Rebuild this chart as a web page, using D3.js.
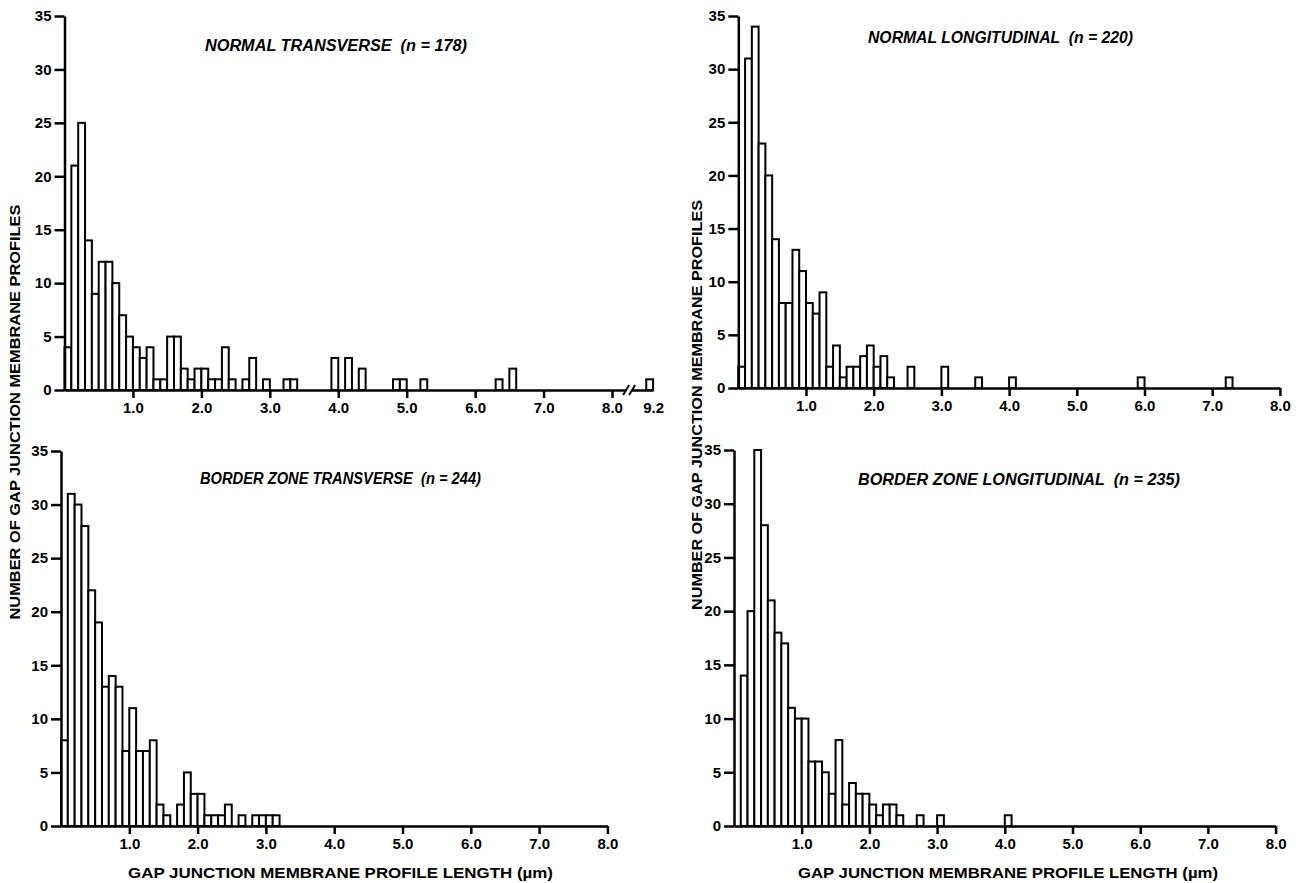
<!DOCTYPE html>
<html>
<head>
<meta charset="utf-8">
<script src="https://cdn.jsdelivr.net/npm/d3@7"></script>
<style>
  html, body { margin: 0; padding: 0; background: #fff; }
  svg { display: block; }
  .tick text { font-family: "Liberation Sans", Arial, sans-serif; font-weight: bold; font-size: 15px; fill: #000; }
  .title { font-family: "Liberation Sans", Arial, sans-serif; font-weight: bold; font-style: italic; font-size: 16px; white-space: pre; }
  .axis-label { font-family: "Liberation Sans", Arial, sans-serif; font-weight: bold; font-size: 15px; }
</style>
</head>
<body>
<svg id="chart" width="1296" height="883"></svg>
<script>
// counts per 0.1 um bin, bin i covers [i*0.1, (i+1)*0.1]
const binWidth = 0.1;
const yTicks = [0, 5, 10, 15, 20, 25, 30, 35];
const xTicks = [1, 2, 3, 4, 5, 6, 7, 8];

const normalTransverse = [
  4, 21, 25, 14, 9, 12, 12, 10, 7, 5,
  4, 3, 4, 1, 1, 5, 5, 2, 1, 2,
  2, 1, 1, 4, 1, 0, 1, 3, 0, 1,
  0, 0, 1, 1, 0, 0, 0, 0, 0, 3,
  0, 3, 0, 2, 0, 0, 0, 0, 1, 1,
  0, 0, 1, 0, 0, 0, 0, 0, 0, 0,
  0, 0, 0, 1, 0, 2
];
// one profile beyond the axis break
const normalTransverseTail = [{ start: 9.1, count: 1 }];

const normalLongitudinal = [
  2, 31, 34, 23, 20, 14, 8, 8, 13, 11,
  8, 7, 9, 2, 4, 1, 2, 2, 3, 4,
  2, 3, 1, 0, 0, 2, 0, 0, 0, 0,
  2, 0, 0, 0, 0, 1, 0, 0, 0, 0,
  1, 0, 0, 0, 0, 0, 0, 0, 0, 0,
  0, 0, 0, 0, 0, 0, 0, 0, 0, 1,
  0, 0, 0, 0, 0, 0, 0, 0, 0, 0,
  0, 0, 1
];

const borderTransverse = [
  8, 31, 30, 28, 22, 19, 13, 14, 13, 7,
  11, 7, 7, 8, 2, 1, 0, 2, 5, 3,
  3, 1, 1, 1, 2, 0, 1, 0, 1, 1,
  1, 1
];

const borderLongitudinal = [
  0, 14, 20, 35, 28, 21, 18, 17, 11, 10,
  10, 6, 6, 5, 3, 8, 2, 4, 3, 3,
  2, 1, 2, 2, 1, 0, 0, 1, 0, 0,
  1, 0, 0, 0, 0, 0, 0, 0, 0, 0,
  1
];

const panelTitles = [
  'NORMAL TRANSVERSE  (n = 178)',
  'NORMAL LONGITUDINAL  (n = 220)',
  'BORDER ZONE TRANSVERSE  (n = 244)',
  'BORDER ZONE LONGITUDINAL  (n = 235)'
];
const yLabel = 'NUMBER OF GAP JUNCTION MEMBRANE PROFILES';
const xLabel = 'GAP JUNCTION MEMBRANE PROFILE LENGTH (\u00b5m)';

const svg = d3.select('#chart');
svg.append('rect').attr('width', 1296).attr('height', 883).attr('fill', '#fff');

function toBins(counts) {
  return counts
    .map((c, i) => ({ x0: i * binWidth, x1: (i + 1) * binWidth, c }))
    .filter((d) => d.c > 0);
}

const panels = [
  {
    bins: toBins(normalTransverse).concat(normalTransverseTail.map((t) => ({ x0: t.start, x1: t.start + binWidth, c: t.count }))),
    title: panelTitles[0], tx: 205, tw: 262, ty: 51,
    x0: 64.5, unit: 68.44, y0: 390, y35: 16, broken: true
  },
  {
    bins: toBins(normalLongitudinal),
    title: panelTitles[1], tx: 868, tw: 265, ty: 43,
    x0: 738.3, unit: 67.7, y0: 388, y35: 16
  },
  {
    bins: toBins(borderTransverse),
    title: panelTitles[2], tx: 200, tw: 281, ty: 484,
    x0: 61, unit: 68.3, y0: 826, y35: 451
  },
  {
    bins: toBins(borderLongitudinal),
    title: panelTitles[3], tx: 858, tw: 322, ty: 485,
    x0: 734, unit: 67.7, y0: 826, y35: 450
  }
];

function drawPanel(p) {
  const g = svg.append('g');
  const u = p.unit;
  let x;
  if (p.broken) {
    // piecewise scale: 8.25 -> 9.1 squeezed into a short gap
    x = d3.scaleLinear()
      .domain([0, 8.25, 9.1, 9.2])
      .range([p.x0, p.x0 + 8.25 * u, p.x0 + 8.5 * u, p.x0 + 8.6 * u]);
  } else {
    x = d3.scaleLinear().domain([0, 8]).range([p.x0, p.x0 + 8 * u]);
  }
  const y = d3.scaleLinear().domain([0, 35]).range([p.y0, p.y35]);

  g.append('g')
    .selectAll('rect')
    .data(p.bins)
    .join('rect')
    .attr('x', (d) => x(d.x0))
    .attr('width', (d) => x(d.x1) - x(d.x0))
    .attr('y', (d) => y(d.c))
    .attr('height', (d) => y(0) - y(d.c))
    .attr('fill', '#fff')
    .attr('stroke', '#000')
    .attr('stroke-width', 2);

  const ticks = p.broken ? xTicks.concat([9.2]) : xTicks;
  const xa = g.append('g')
    .attr('transform', `translate(0,${y(0)})`)
    .call(d3.axisBottom(x).tickValues(ticks).tickSize(8).tickSizeOuter(0).tickPadding(4).tickFormat(d3.format('.1f')));
  xa.selectAll('path, line').attr('stroke', '#000').attr('stroke-width', 2.5);
  xa.attr('font-size', null).attr('font-family', null);
  if (p.broken) {
    xa.selectAll('.tick').filter((d) => d > 8).select('line').remove();
    const bx = x(8.25);
    g.append('rect').attr('x', bx - 3).attr('y', y(0) - 3).attr('width', 6).attr('height', 6).attr('fill', '#fff');
    [-3, 3].forEach((dx) => {
      g.append('line')
        .attr('x1', bx + dx - 3).attr('y1', y(0) + 5)
        .attr('x2', bx + dx + 3).attr('y2', y(0) - 5)
        .attr('stroke', '#000').attr('stroke-width', 2);
    });
  }

  const ya = g.append('g')
    .attr('transform', `translate(${x(0)},0)`)
    .call(d3.axisLeft(y).tickValues(yTicks).tickSize(10).tickSizeOuter(0).tickPadding(3).tickFormat(d3.format('d')));
  ya.selectAll('path, line').attr('stroke', '#000').attr('stroke-width', 2.5);
  ya.attr('font-size', null).attr('font-family', null);

  g.append('text')
    .attr('class', 'title')
    .attr('x', p.tx)
    .attr('y', p.ty)
    .attr('textLength', p.tw)
    .attr('lengthAdjust', 'spacingAndGlyphs')
    .text(p.title);
}

panels.forEach(drawPanel);

// shared axis titles
[{ x: 15, cy: 412, len: 415 }, { x: 697, cy: 405, len: 410 }].forEach((l) => {
  svg.append('text')
    .attr('class', 'axis-label')
    .attr('transform', `translate(${l.x + 5},${l.cy}) rotate(-90)`)
    .attr('text-anchor', 'middle')
    .attr('textLength', l.len)
    .attr('lengthAdjust', 'spacingAndGlyphs')
    .text(yLabel);
});

[{ x: 128, len: 425 }, { x: 798, len: 420 }].forEach((l) => {
  svg.append('text')
    .attr('class', 'axis-label')
    .attr('x', l.x)
    .attr('y', 878)
    .attr('textLength', l.len)
    .attr('lengthAdjust', 'spacingAndGlyphs')
    .text(xLabel);
});
</script>
</body>
</html>
